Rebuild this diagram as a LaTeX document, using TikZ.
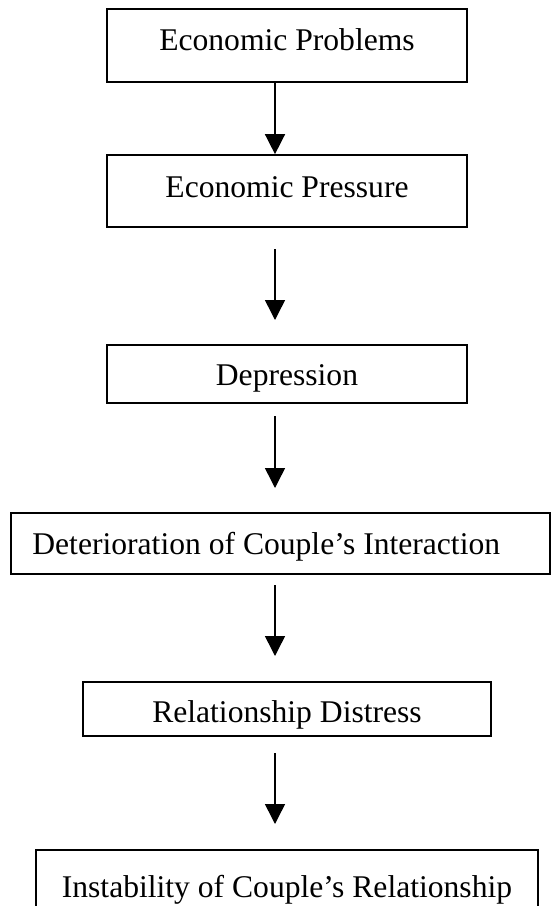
\documentclass[tikz,border=0pt]{standalone}
\usepackage{fontspec}
\setmainfont{Liberation Serif}
\usetikzlibrary{arrows.meta}
\begin{document}
\begin{tikzpicture}[x=0.5pt,y=-0.5pt,
  box/.style={draw=black, line width=0.85pt, rectangle, inner sep=0pt},
  lbl/.style={inner sep=0pt, anchor=base, font=\fontsize{15.8}{19}\selectfont},
  arr/.style={line width=0.75pt, -{Triangle[width=10pt,length=10pt]}}]
\useasboundingbox (0,0) rectangle (555,906);
\fill[white] (0,0) rectangle (555,906);
\clip (0,0) rectangle (555,906);
% boxes
\node[box, minimum width=180pt, minimum height=36.5pt] (b1) at (287,45.5) {};
\node[box, minimum width=180pt, minimum height=36pt] (b2) at (287,191) {};
\node[box, minimum width=180pt, minimum height=29pt] (b3) at (287,374) {};
\node[box, minimum width=269.5pt, minimum height=30.5pt] (b4) at (280.5,543.5) {};
\node[box, minimum width=204pt, minimum height=27pt] (b5) at (287,709) {};
\node[box, minimum width=251pt, minimum height=35pt] (b6) at (287,885) {};
% texts
\node[lbl] (t1) at (287,50) {Economic Problems};
\node[lbl] (t2) at (287,197) {Economic Pressure};
\node[lbl] (t3) at (287,385) {Depression};
\node[lbl, anchor=base west] (t4) at (32,554) {Deterioration of Couple’s Interaction};
\node[lbl] (t5) at (287,722) {Relationship Distress};
\node[lbl] (t6) at (287,897) {Instability of Couple’s Relationship};
% arrow end points
\coordinate (a2s) at (275,249);
\coordinate (a2e) at (275,320);
\coordinate (a3s) at (275,416);
\coordinate (a3e) at (275,488);
\coordinate (a4s) at (275,585);
\coordinate (a4e) at (275,656);
\coordinate (a5s) at (275,753);
\coordinate (a5e) at (275,824);
% arrows
\draw[arr] ([xshift=-6pt]b1.south) -- ([xshift=-6pt]b2.north);
\draw[arr] (a2s) -- (a2e);
\draw[arr] (a3s) -- (a3e);
\draw[arr] (a4s) -- (a4e);
\draw[arr] (a5s) -- (a5e);
\end{tikzpicture}
\end{document}
